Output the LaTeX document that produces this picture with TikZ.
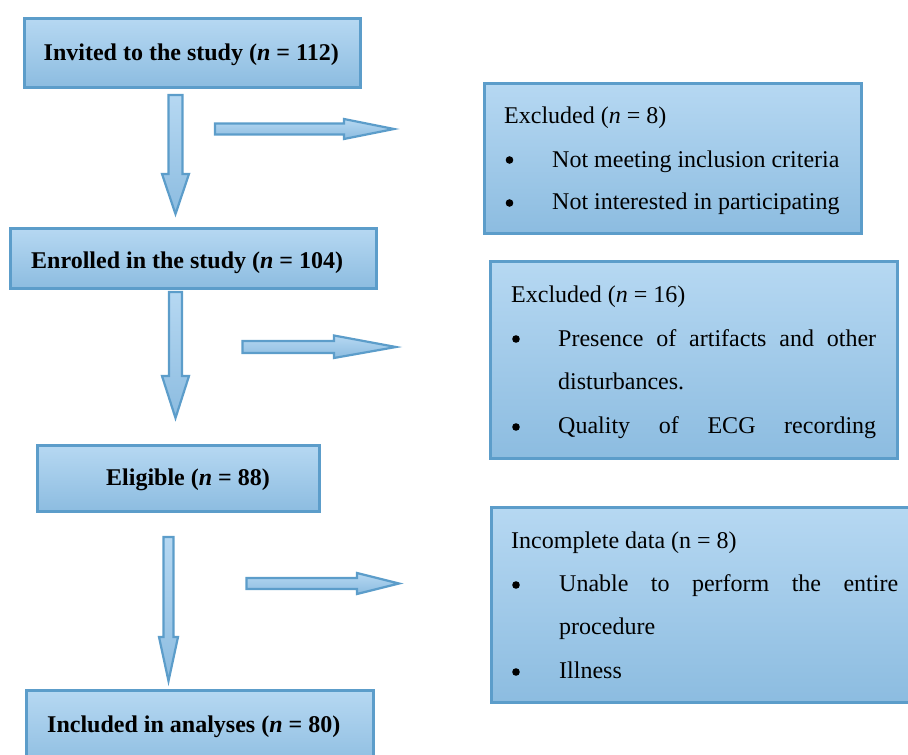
\documentclass[tikz,border=0pt]{standalone}
\usepackage{fontspec}
\setmainfont{Liberation Serif}
\begin{document}
\begin{tikzpicture}[x=1pt,y=-1pt,
  box/.style={draw=bordc, line width=2.6pt, top color=filltop, bottom color=fillbot, inner sep=0pt, anchor=north west},
  barrow/.style={draw=bordc, line width=2.2pt, line join=miter, top color=filltop, bottom color=fillbot},
  bul/.style={circle, fill=black, inner sep=0pt, minimum size=7.6pt},
  txt/.style={anchor=base west, inner sep=0pt, font=\fontsize{24}{28}\selectfont},
  btxt/.style={txt, font=\fontsize{24}{28}\selectfont\bfseries}]
\definecolor{bordc}{RGB}{92,157,202}
\definecolor{filltop}{RGB}{182,216,242}
\definecolor{fillbot}{RGB}{140,188,224}
\useasboundingbox (0,0) rectangle (908,755);

% left boxes
\node[box, minimum width=336pt, minimum height=69pt] (b1) at (23.3,17.3) {};
\node[box, minimum width=366pt, minimum height=60pt] (b2) at (9.3,227.3) {};
\node[box, minimum width=282pt, minimum height=66pt] (b3) at (36.3,444.3) {};
\node[box, minimum width=347pt, minimum height=80pt] (b4) at (25.3,689.3) {};

\node[btxt] (t1) at (43.5,60) {Invited to the study (\textit{n} = 112)};
\node[btxt] (t2) at (31,268) {Enrolled in the study (\textit{n} = 104)};
\node[btxt] (t3) at (106,485) {Eligible (\textit{n} = 88)};
\node[btxt] (t4) at (47,732) {Included in analyses (\textit{n} = 80)};

% right boxes
\node[box, minimum width=377pt, minimum height=150pt] (r1) at (483.3,82.3) {};
\node[box, minimum width=407pt, minimum height=197pt] (r2) at (489.3,260.3) {};
\node[box, minimum width=430pt, minimum height=195pt] (r3) at (490.3,506.3) {};

\node[txt] (r1h) at (504,123) {Excluded (\textit{n} = 8)};
\node[bul] (r1b1) at (509.5,160) {};
\node[txt] (r1l1) at (552,167) {Not meeting inclusion criteria};
\node[bul] (r1b2) at (509.5,203) {};
\node[txt] (r1l2) at (552,209) {Not interested in participating};

\node[txt] (r2h) at (511,302) {Excluded (\textit{n} = 16)};
\node[bul] (r2b1) at (516,339) {};
\node[txt] (r2l1) at (558,346) {\makebox[318pt][s]{Presence of artifacts and other}};
\node[txt] (r2l2) at (558,389) {disturbances.};
\node[bul] (r2b2) at (516,427) {};
\node[txt] (r2l3) at (558,433) {\makebox[318pt][s]{Quality of ECG recording}};

\node[txt] (r3h) at (511,548) {Incomplete data (n = 8)};
\node[bul] (r3b1) at (516,585) {};
\node[txt] (r3l1) at (559,591) {\makebox[339pt][s]{Unable to perform the entire}};
\node[txt] (r3l2) at (559,634) {procedure};
\node[bul] (r3b2) at (516,672) {};
\node[txt] (r3l3) at (559,678) {Illness};

% block arrows (down)
\path[barrow] (168.5,95) -- (182.5,95) -- (182.5,174) -- (189,174) -- (175.5,214) -- (162,174) -- (168.5,174) -- cycle;
\path[barrow] (169,292) -- (182,292) -- (182,376) -- (189,376) -- (175.5,418) -- (162,376) -- (169,376) -- cycle;
\path[barrow] (163.5,537) -- (173.5,537) -- (173.5,637) -- (178,637) -- (168.5,681) -- (159,637) -- (163.5,637) -- cycle;

% block arrows (right)
\path[barrow] (215,123.5) -- (344,123.5) -- (344,119) -- (394,129) -- (344,139) -- (344,134.5) -- (215,134.5) -- cycle;
\path[barrow] (242.5,341) -- (334,341) -- (334,335.5) -- (396,347) -- (334,358) -- (334,353) -- (242.5,353) -- cycle;
\path[barrow] (246.5,578) -- (357,578) -- (357,573) -- (399,583.5) -- (357,594) -- (357,589) -- (246.5,589) -- cycle;
\end{tikzpicture}
\end{document}
